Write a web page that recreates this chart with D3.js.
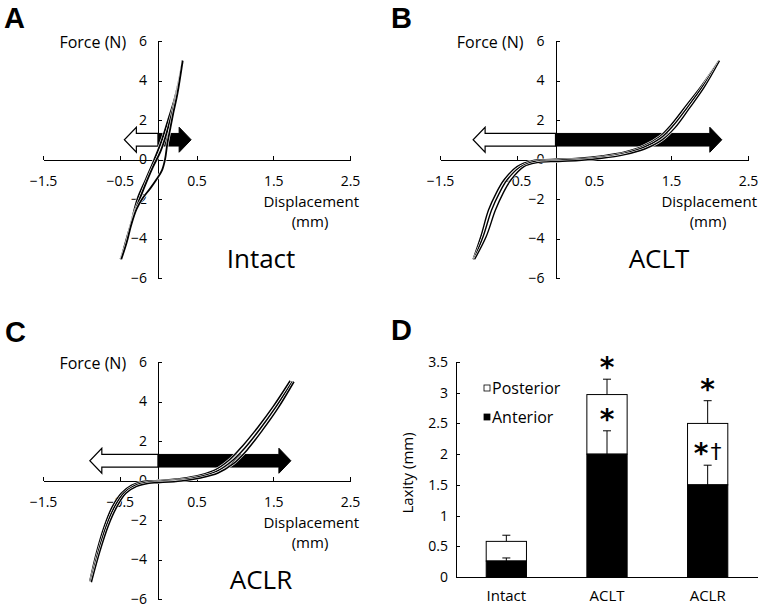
<!DOCTYPE html>
<meta charset="utf-8">
<style>
  body { margin: 0; background: #fff; }
  text { font-family: "Open Sans", "Liberation Sans", sans-serif; fill: #000; }
  .axis path, .axis line { stroke: #000; stroke-width: 1px; shape-rendering: crispEdges; }
  .axis text { font-family: "Open Sans", sans-serif; font-size: 14px; fill: #000; }
  .letter { font-family: "Liberation Sans", Arial, sans-serif; font-weight: bold; font-size: 29px; }
  .mark { font-family: "DejaVu Sans", sans-serif; font-weight: bold; font-size: 28px; }
</style>
<script src="https://d3js.org/d3.v7.min.js"></script>
<div id="chart"></div>
<script>

// ---- data: force-displacement curves (displacement mm, force N) ----
var xTicks = [-1.5, -0.5, 0.5, 1.5, 2.5];
var yTicks = [-6, -4, -2, 0, 2, 4, 6];

var intactUpper = [[-0.49,-5.05],[-0.42,-4.2],[-0.37,-3.5],[-0.27,-2.0],[-0.16,-1.0],[-0.05,0.0],[0.05,1.0],[0.13,2.0],[0.21,3.0],[0.26,3.8],[0.32,5.0]];
var intactMiddle = [[-0.48,-5.0],[-0.38,-3.6],[-0.29,-2.5],[-0.19,-1.5],[-0.07,-0.4],[0.03,0.4],[0.1,1.2],[0.17,2.2],[0.24,3.3],[0.32,5.0]];
var intactLower = [[-0.48,-5.05],[-0.41,-4.2],[-0.35,-3.3],[-0.28,-2.5],[-0.2,-1.95],[-0.1,-1.45],[-0.02,-1.0],[0.05,-0.55],[0.09,0.0],[0.12,0.8],[0.16,1.6],[0.2,2.4],[0.25,3.3],[0.32,5.0]];

var acltUpper = [[-1.07,-5.05],[-0.97,-3.9],[-0.87,-2.56],[-0.77,-1.7],[-0.67,-1.04],[-0.5,-0.36],[-0.3,-0.06],[-0.06,0.0],[0.3,0.06],[0.6,0.18],[0.9,0.38],[1.15,0.7],[1.35,1.15],[1.5,1.75],[1.7,2.75],[1.9,3.75],[2.12,5.0]];
var acltMiddle = [[-1.06,-5.05],[-0.94,-3.9],[-0.83,-2.56],[-0.73,-1.7],[-0.63,-1.04],[-0.46,-0.38],[-0.27,-0.1],[-0.06,-0.05],[0.3,0.01],[0.6,0.12],[0.9,0.32],[1.15,0.62],[1.36,1.07],[1.52,1.68],[1.72,2.68],[1.91,3.7],[2.12,5.0]];
var acltLower = [[-1.05,-5.05],[-0.9,-3.9],[-0.78,-2.56],[-0.68,-1.7],[-0.58,-1.04],[-0.41,-0.36],[-0.24,-0.16],[-0.06,-0.11],[0.3,-0.05],[0.6,0.06],[0.9,0.25],[1.15,0.52],[1.38,0.98],[1.55,1.6],[1.74,2.6],[1.93,3.65],[2.13,5.0]];

var aclrUpper = [[-0.89,-5.1],[-0.8,-3.6],[-0.7,-2.3],[-0.6,-1.35],[-0.48,-0.65],[-0.35,-0.25],[-0.2,-0.05],[0,0.0],[0.3,0.1],[0.55,0.28],[0.75,0.55],[0.93,1.05],[1.1,1.75],[1.3,2.7],[1.5,3.75],[1.72,5.05]];
var aclrMiddle = [[-0.88,-5.12],[-0.78,-3.6],[-0.675,-2.3],[-0.57,-1.35],[-0.45,-0.65],[-0.315,-0.27],[-0.16,-0.1],[0,-0.05],[0.3,0.04],[0.55,0.2],[0.76,0.46],[0.95,0.95],[1.13,1.65],[1.33,2.62],[1.53,3.7],[1.75,5.02]];
var aclrLower = [[-0.87,-5.15],[-0.76,-3.6],[-0.65,-2.3],[-0.54,-1.35],[-0.42,-0.65],[-0.28,-0.3],[-0.12,-0.14],[0,-0.11],[0.3,-0.02],[0.55,0.13],[0.78,0.38],[0.98,0.85],[1.16,1.55],[1.36,2.55],[1.56,3.65],[1.77,5.0]];

// arrows: [posterior tip, anterior tip] in mm, drawn at force = arrowForce
var arrowForce = 1;
var intactArrows = [-0.44, 0.43];
var acltArrows = [-1.07, 2.16];
var aclrArrows = [-0.89, 1.73];

// ---- data: laxity bars (mm) ----
var groups = ["Intact", "ACLT", "ACLR"];
var anterior = [0.26, 2.0, 1.5];
var posterior = [0.32, 0.97, 1.0];
var anteriorSD = [0.05, 0.38, 0.32];
var posteriorSD = [0.1, 0.25, 0.37];
var anteriorMarks = ["", "*", "*"];
var anteriorDagger = ["", "", "\u2020"];
var posteriorMarks = ["", "*", "*"];
var laxTicks = [0, 0.5, 1, 1.5, 2, 2.5, 3, 3.5];
var legendLabels = ["Posterior", "Anterior"];

var svg = d3.select("#chart").append("svg")
    .attr("width", 761)
    .attr("height", 608);

// one force-displacement panel
function curvePanel(p) {
  var g = svg.append("g");
  var x = d3.scaleLinear().domain([-1.5, 2.5]).range([p.left, p.right]);
  var y = d3.scaleLinear().domain([-6, 6]).range([p.bottom, p.top]);

  g.append("g")
    .attr("class", "axis")
    .attr("transform", "translate(0," + y(0) + ")")
    .call(d3.axisBottom(x).tickValues(xTicks).tickSizeInner(-4).tickSizeOuter(0).tickPadding(17)
      .tickFormat(d3.format(".1f")));

  g.append("g")
    .attr("class", "axis")
    .attr("transform", "translate(" + x(0) + ",0)")
    .call(d3.axisLeft(y).tickValues(yTicks).tickSizeInner(-4).tickSizeOuter(0).tickPadding(11)
      .tickFormat(d3.format("d")));

  // arrows
  function arrowPath(tip) {
    var y0 = y(arrowForce), xs = x(0), xt = x(tip);
    var dir = xt > xs ? 1 : -1, hl = 12, sh = 6.3, hh = 12.5;
    var xb = xt - dir * hl;
    return "M" + xs + "," + (y0 - sh) + "L" + xb + "," + (y0 - sh) + "L" + xb + "," + (y0 - hh) +
      "L" + xt + "," + y0 + "L" + xb + "," + (y0 + hh) + "L" + xb + "," + (y0 + sh) +
      "L" + xs + "," + (y0 + sh) + "Z";
  }
  g.append("path").attr("d", arrowPath(p.arrows[0]))
    .attr("fill", "#fff").attr("stroke", "#000").attr("stroke-width", 1.2);
  g.append("path").attr("d", arrowPath(p.arrows[1]))
    .attr("fill", "#000").attr("stroke", "#000").attr("stroke-width", 1);

  // curves: thin white halo under each black line
  var line = d3.line()
    .x(function(d) { return x(d[0]); })
    .y(function(d) { return y(d[1]); })
    .curve(d3.curveCatmullRom);
  p.curves.forEach(function(c) {
    g.append("path").attr("d", line(c))
      .attr("fill", "none").attr("stroke", "#fff").attr("stroke-width", p.lw + 1.1);
    g.append("path").attr("d", line(c))
      .attr("fill", "none").attr("stroke", "#000").attr("stroke-width", p.lw)
      .attr("stroke-linejoin", "round");
  });

  // labels
  g.append("text").attr("x", x(0) - 32).attr("y", y(6) + 1).attr("dy", "0.35em")
    .attr("text-anchor", "end").style("font-size", "16px").text("Force (N)");
  g.append("text").attr("x", p.right + 9).attr("y", y(0) + 47)
    .attr("text-anchor", "end").style("font-size", "15px").text("Displacement");
  g.append("text").attr("x", p.right - 40).attr("y", y(0) + 67)
    .attr("text-anchor", "middle").style("font-size", "15px").text("(mm)");
  g.append("text").attr("x", p.right - 89).attr("y", p.bottom - 10)
    .attr("text-anchor", "middle").style("font-size", "26px").text(p.name);
  g.append("text").attr("class", "letter").attr("x", p.lx).attr("y", p.ly).text(p.letter);
}

curvePanel({left: 43, right: 350, top: 41, bottom: 278, name: "Intact", letter: "A", lx: 4, ly: 28,
  curves: [intactUpper, intactMiddle, intactLower], arrows: intactArrows, lw: 1.8});
curvePanel({left: 440, right: 748, top: 41, bottom: 278, name: "ACLT", letter: "B", lx: 391, ly: 28,
  curves: [acltUpper, acltMiddle, acltLower], arrows: acltArrows, lw: 1.4});
curvePanel({left: 43, right: 350, top: 362, bottom: 599, name: "ACLR", letter: "C", lx: 5, ly: 342,
  curves: [aclrUpper, aclrMiddle, aclrLower], arrows: aclrArrows, lw: 1.5});

// ---- panel D: laxity bars ----
var gD = svg.append("g");
var xD = d3.scaleBand().domain(groups).range([456, 758]).paddingInner(0.6).paddingOuter(0.3);
var yD = d3.scaleLinear().domain([0, 3.5]).range([577, 362]);

gD.append("g")
  .attr("class", "axis")
  .attr("transform", "translate(456,0)")
  .call(d3.axisLeft(yD).tickValues(laxTicks).tickSizeInner(-4).tickSizeOuter(0).tickPadding(8)
    .tickFormat(function(d) { return String(d); }));

var xAxisD = gD.append("g")
  .attr("class", "axis")
  .attr("transform", "translate(0,577)")
  .call(d3.axisBottom(xD).tickSize(0).tickPadding(13));
xAxisD.selectAll("text").style("font-size", "15px");
xAxisD.select(".domain").attr("d", "M456,0.5H758");

var bars = gD.selectAll(".bar").data(groups).enter().append("g");

bars.each(function(d, i) {
  var cx = xD(d) + xD.bandwidth() / 2;
  var top = anterior[i] + posterior[i];
  var g = d3.select(this);
  // posterior error
  g.append("line").attr("x1", cx).attr("x2", cx)
    .attr("y1", yD(top)).attr("y2", yD(top + posteriorSD[i])).attr("stroke", "#000");
  g.append("line").attr("x1", cx - 4).attr("x2", cx + 4)
    .attr("y1", yD(top + posteriorSD[i])).attr("y2", yD(top + posteriorSD[i])).attr("stroke", "#000");
  // posterior segment
  g.append("rect").attr("x", xD(d)).attr("width", xD.bandwidth())
    .attr("y", yD(top)).attr("height", yD(anterior[i]) - yD(top))
    .attr("fill", "#fff").attr("stroke", "#000").attr("stroke-width", 1);
  // anterior segment
  g.append("rect").attr("x", xD(d)).attr("width", xD.bandwidth())
    .attr("y", yD(anterior[i])).attr("height", yD(0) - yD(anterior[i]))
    .attr("fill", "#000").attr("stroke", "#000").attr("stroke-width", 1);
  // anterior error
  g.append("line").attr("x1", cx).attr("x2", cx)
    .attr("y1", yD(anterior[i])).attr("y2", yD(anterior[i] + anteriorSD[i])).attr("stroke", "#000");
  g.append("line").attr("x1", cx - 4).attr("x2", cx + 4)
    .attr("y1", yD(anterior[i] + anteriorSD[i])).attr("y2", yD(anterior[i] + anteriorSD[i])).attr("stroke", "#000");
  // significance marks
  g.append("text").attr("class", "mark").attr("x", cx).attr("y", yD(top + posteriorSD[i]) - 2)
    .attr("text-anchor", "middle").text(posteriorMarks[i]);
  var t = g.append("text").attr("class", "mark").attr("x", cx).attr("y", yD(anterior[i] + anteriorSD[i]) - 2)
    .attr("text-anchor", "middle");
  t.append("tspan").text(anteriorMarks[i]);
  t.append("tspan").attr("dx", 2).attr("dy", -4).style("font-weight", "normal").style("font-size", "22px")
    .text(anteriorDagger[i]);
});

// legend
var legend = gD.selectAll(".legend").data(legendLabels).enter().append("g")
  .attr("transform", function(d, i) { return "translate(484," + (385 + i * 29) + ")"; });
legend.append("rect").attr("width", 6).attr("height", 6)
  .attr("fill", function(d, i) { return i === 0 ? "#fff" : "#000"; })
  .attr("stroke", "#000").attr("stroke-width", 0.8);
legend.append("text").attr("x", 8).attr("y", 3).attr("dy", "0.35em")
  .style("font-size", "16px").text(function(d) { return d; });

gD.append("text")
  .attr("transform", "translate(408,473) rotate(-90)")
  .attr("text-anchor", "middle").attr("dy", "0.35em")
  .style("font-size", "15px").text("Laxity (mm)");

gD.append("text").attr("class", "letter").attr("x", 391).attr("y", 340).text("D");

</script>
